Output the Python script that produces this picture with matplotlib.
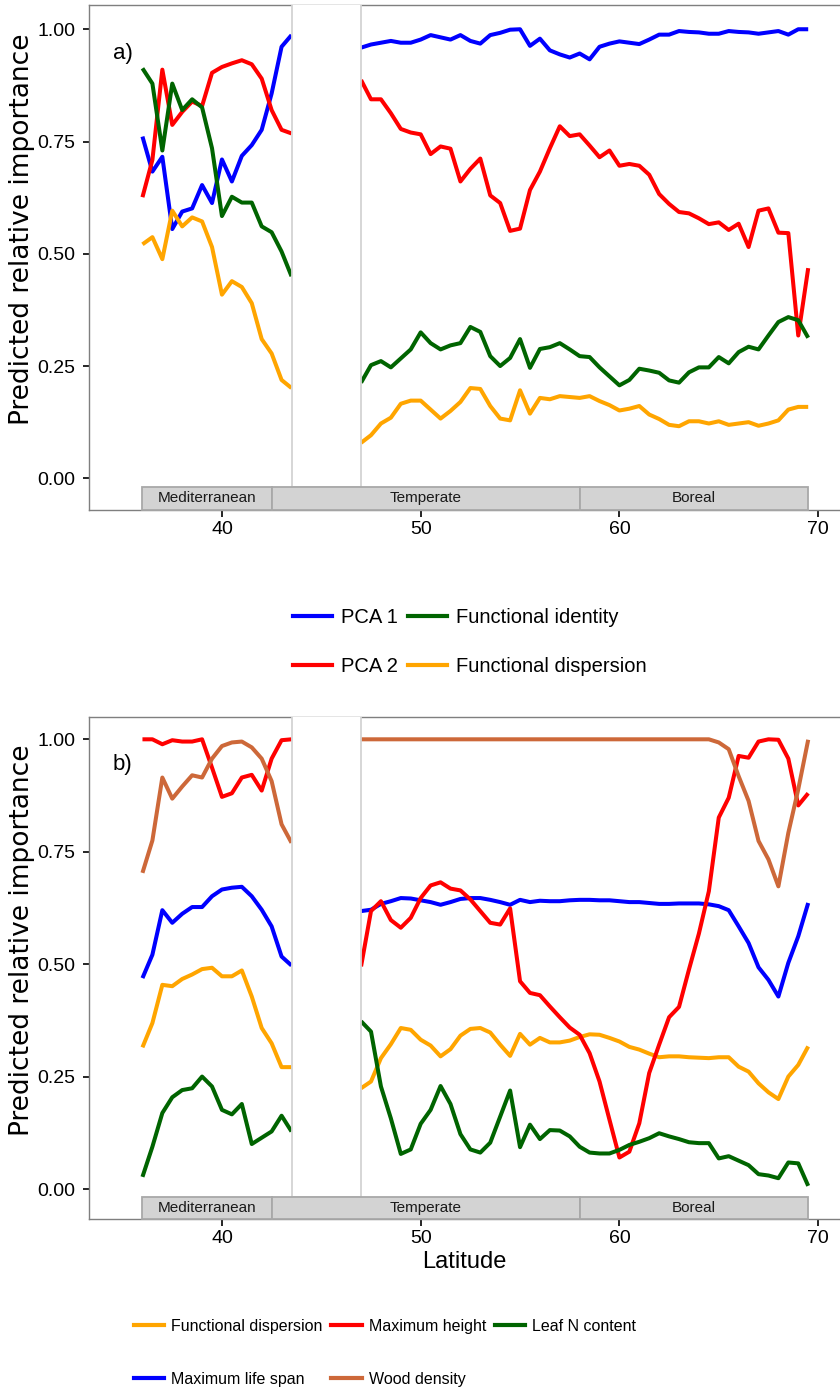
import numpy as np
import matplotlib
matplotlib.use("Agg")
import matplotlib.pyplot as plt
from matplotlib.patches import Rectangle
from matplotlib.lines import Line2D

plt.rcParams['font.family'] = ['Liberation Sans', 'DejaVu Sans']

nan = np.nan
latitude = np.arange(36.0, 70.0, 0.5)
GAP = [nan] * 6  # 44.0 .. 46.5 hidden under the white band

# ---- panel a ----
pca1 = [0.761, 0.683, 0.716, 0.555, 0.594, 0.601, 0.653, 0.613, 0.710, 0.661, 0.718, 0.742, 0.776, 0.857, 0.961, 0.987] + GAP + \
       [0.959, 0.966, 0.970, 0.974, 0.970, 0.970, 0.977, 0.987, 0.982, 0.977, 0.987, 0.974, 0.968, 0.987, 0.992, 0.999, 1.000, 0.963, 0.979, 0.953, 0.944, 0.937, 0.946, 0.933,
        0.961, 0.968, 0.973, 0.970, 0.967, 0.977, 0.988, 0.988, 0.996, 0.994, 0.993, 0.990, 0.990, 0.996, 0.994, 0.993, 0.990, 0.993, 0.996, 0.988, 1.000, 1.000]
pca2 = [0.626, 0.709, 0.910, 0.787, 0.816, 0.839, 0.829, 0.903, 0.916, 0.924, 0.931, 0.922, 0.890, 0.820, 0.776, 0.768] + GAP + \
       [0.887, 0.844, 0.844, 0.813, 0.778, 0.770, 0.766, 0.722, 0.739, 0.734, 0.661, 0.689, 0.712, 0.630, 0.613, 0.551, 0.556, 0.642, 0.683, 0.735, 0.784, 0.762, 0.766, 0.741,
        0.715, 0.730, 0.696, 0.700, 0.696, 0.676, 0.633, 0.611, 0.593, 0.590, 0.579, 0.566, 0.570, 0.553, 0.567, 0.515, 0.596, 0.601, 0.547, 0.546, 0.318, 0.468]
func_identity = [0.913, 0.879, 0.730, 0.879, 0.820, 0.844, 0.826, 0.735, 0.584, 0.627, 0.614, 0.614, 0.561, 0.548, 0.505, 0.450] + GAP + \
       [0.213, 0.252, 0.261, 0.247, 0.267, 0.287, 0.325, 0.301, 0.287, 0.296, 0.301, 0.337, 0.326, 0.272, 0.250, 0.268, 0.310, 0.246, 0.288, 0.292, 0.301, 0.287, 0.272, 0.270,
        0.247, 0.227, 0.207, 0.219, 0.244, 0.240, 0.235, 0.218, 0.213, 0.236, 0.247, 0.247, 0.270, 0.256, 0.281, 0.293, 0.287, 0.318, 0.348, 0.359, 0.352, 0.313]
func_disp_a = [0.521, 0.537, 0.488, 0.596, 0.561, 0.581, 0.572, 0.515, 0.409, 0.439, 0.426, 0.390, 0.310, 0.278, 0.219, 0.201] + GAP + \
       [0.079, 0.096, 0.122, 0.135, 0.166, 0.173, 0.173, 0.153, 0.133, 0.150, 0.170, 0.201, 0.199, 0.161, 0.133, 0.129, 0.196, 0.144, 0.179, 0.176, 0.183, 0.181, 0.179, 0.183,
        0.172, 0.163, 0.151, 0.155, 0.161, 0.142, 0.132, 0.119, 0.116, 0.127, 0.127, 0.122, 0.127, 0.119, 0.122, 0.125, 0.117, 0.122, 0.129, 0.153, 0.159, 0.159]

# ---- panel b ----
max_height = [1.0, 1.0, 0.989, 0.998, 0.995, 0.995, 1.0, 0.937, 0.872, 0.880, 0.915, 0.921, 0.886, 0.957, 0.998, 1.0] + GAP + \
       [0.495, 0.618, 0.640, 0.598, 0.581, 0.603, 0.647, 0.675, 0.682, 0.668, 0.664, 0.644, 0.618, 0.592, 0.588, 0.624, 0.462, 0.436, 0.431, 0.406, 0.382, 0.359, 0.343, 0.302,
        0.239, 0.154, 0.070, 0.083, 0.146, 0.258, 0.321, 0.382, 0.405, 0.488, 0.568, 0.662, 0.826, 0.870, 0.963, 0.959, 0.995, 1.0, 0.999, 0.957, 0.853, 0.880]
wood_density = [0.703, 0.775, 0.915, 0.868, 0.895, 0.920, 0.915, 0.957, 0.985, 0.993, 0.995, 0.982, 0.957, 0.907, 0.811, 0.770] + GAP + \
       [1.0] * 36 + [0.993, 0.978, 0.918, 0.863, 0.774, 0.733, 0.673, 0.792, 0.889, 0.999]
max_life_span = [0.469, 0.521, 0.620, 0.592, 0.612, 0.627, 0.627, 0.651, 0.666, 0.670, 0.672, 0.651, 0.621, 0.584, 0.517, 0.497] + GAP + \
       [0.618, 0.621, 0.634, 0.640, 0.647, 0.646, 0.642, 0.638, 0.632, 0.638, 0.645, 0.647, 0.647, 0.643, 0.638, 0.632, 0.643, 0.638, 0.641, 0.640, 0.640, 0.642, 0.643, 0.643,
        0.642, 0.642, 0.640, 0.638, 0.638, 0.636, 0.634, 0.634, 0.635, 0.635, 0.635, 0.633, 0.629, 0.620, 0.584, 0.547, 0.493, 0.465, 0.428, 0.503, 0.562, 0.636]
func_disp_b = [0.315, 0.369, 0.454, 0.451, 0.467, 0.477, 0.489, 0.492, 0.473, 0.473, 0.486, 0.428, 0.358, 0.324, 0.271, 0.271] + GAP + \
       [0.224, 0.239, 0.291, 0.322, 0.358, 0.354, 0.332, 0.319, 0.295, 0.311, 0.341, 0.356, 0.358, 0.348, 0.321, 0.296, 0.345, 0.321, 0.336, 0.326, 0.326, 0.330, 0.338, 0.344,
        0.343, 0.336, 0.328, 0.316, 0.310, 0.301, 0.293, 0.295, 0.295, 0.293, 0.292, 0.291, 0.293, 0.293, 0.272, 0.261, 0.235, 0.215, 0.200, 0.250, 0.276, 0.317]
leaf_n = [0.027, 0.094, 0.169, 0.204, 0.220, 0.224, 0.250, 0.228, 0.176, 0.166, 0.189, 0.100, 0.114, 0.128, 0.163, 0.128] + GAP + \
       [0.373, 0.350, 0.228, 0.157, 0.078, 0.088, 0.145, 0.176, 0.229, 0.189, 0.122, 0.088, 0.081, 0.103, 0.161, 0.219, 0.093, 0.143, 0.111, 0.131, 0.130, 0.117, 0.094, 0.081,
        0.079, 0.079, 0.087, 0.098, 0.105, 0.113, 0.124, 0.117, 0.111, 0.104, 0.102, 0.102, 0.068, 0.073, 0.063, 0.053, 0.033, 0.030, 0.024, 0.059, 0.057, 0.007]

regions = ["Mediterranean", "Temperate", "Boreal"]
region_bounds = [36.0, 42.5, 58.0, 69.5]
gap_band = (43.5, 47.0)
y_ticks = [0.0, 0.25, 0.5, 0.75, 1.0]
x_ticks = [40, 50, 60, 70]

series_a = [("PCA 1", pca1, "#0000FF"), ("PCA 2", pca2, "#FF0000"),
            ("Functional identity", func_identity, "#006400"),
            ("Functional dispersion", func_disp_a, "#FFA500")]
series_b = [("Functional dispersion", func_disp_b, "#FFA500"),
            ("Maximum life span", max_life_span, "#0000FF"),
            ("Maximum height", max_height, "#FF0000"),
            ("Wood density", wood_density, "#CD6839"),
            ("Leaf N content", leaf_n, "#006400")]

W, H = 840, 1395
fig = plt.figure(figsize=(W / 100, H / 100), dpi=100)


def make_axes(top_px, bot_px, ylim):
    ax = fig.add_axes([89 / W, 1 - bot_px / H, 1 - 89 / W, (bot_px - top_px) / H])
    ax.set_xlim(33.31, 71.1)
    ax.set_ylim(*ylim)
    for s in ["left", "bottom", "top"]:
        ax.spines[s].set_color("#7f7f7f")
        ax.spines[s].set_linewidth(1.0)
    ax.spines["right"].set_visible(False)
    ax.set_xticks(x_ticks)
    ax.set_yticks(y_ticks)
    ax.set_yticklabels([f"{v:.2f}" for v in y_ticks])
    ax.tick_params(axis="both", direction="out", color="black", width=1.2,
                   labelsize=14, labelcolor="black")
    ax.tick_params(axis="y", length=4.5, pad=5.5)
    ax.tick_params(axis="x", length=5, pad=3)
    ax.set_ylabel("Predicted relative importance", fontsize=19,
                  family=["DejaVu Sans"])
    ax.yaxis.set_label_coords(-0.072, 0.556)
    return ax


def decorate(ax, bar_bottom, bar_top):
    # white band hiding the unsampled latitudes
    ax.add_patch(Rectangle((gap_band[0], bar_top), gap_band[1] - gap_band[0], 2.0,
                           facecolor="white", edgecolor="#d3d3d3", lw=1.3, zorder=5,
                           clip_on=True))
    for name, x0, x1 in zip(regions, region_bounds[:-1], region_bounds[1:]):
        ax.add_patch(Rectangle((x0, bar_bottom), x1 - x0, bar_top - bar_bottom,
                               facecolor="#d3d3d3", edgecolor="#a8a8a8", lw=1.3,
                               zorder=6, clip_on=False))
        ax.text((x0 + x1) / 2, (bar_bottom + bar_top) / 2, name, ha="center",
                va="center", fontsize=11, color="#1a1a1a", zorder=7)


lw = 2.9
# ---- panel a ----
ax1 = make_axes(5, 510, (-0.0706, 1.054))
for name, vals, col in series_a:
    ax1.plot(latitude, vals, color=col, lw=lw, label=name, zorder=3,
             solid_joinstyle="round", solid_capstyle="butt")
decorate(ax1, -0.0706, -0.019)
ax1.text(34.5, 0.947, "a)", fontsize=16, ha="left", va="center")

# ---- panel b ----
ax2 = make_axes(717, 1219, (-0.0667, 1.0496))
for name, vals, col in series_b:
    ax2.plot(latitude, vals, color=col, lw=lw, label=name, zorder=3,
             solid_joinstyle="round", solid_capstyle="butt")
decorate(ax2, -0.0667, -0.017)
ax2.text(34.5, 0.943, "b)", fontsize=16, ha="left", va="center")
ax2.set_xlabel("Latitude", fontsize=17, labelpad=3)

# ---- legends ----
h_a = [Line2D([], [], color=c, lw=3) for _, _, c in series_a]
fig.legend(h_a, [s[0] for s in series_a],
           loc="center", bbox_to_anchor=(470 / W, 1 - 642 / H), ncol=2,
           frameon=False, fontsize=14.5, handlelength=1.95, handletextpad=0.45,
           columnspacing=0.5, labelspacing=1.5, borderpad=0)

h_b = [Line2D([], [], color=c, lw=3) for _, _, c in series_b]
fig.legend(h_b, [s[0] for s in series_b],
           loc="center", bbox_to_anchor=(385 / W, 1 - 1353 / H), ncol=3,
           frameon=False, fontsize=11.5, handlelength=1.9, handletextpad=0.44,
           columnspacing=0.56, labelspacing=2.37, borderpad=0)

fig.savefig("out.png", dpi=100)
